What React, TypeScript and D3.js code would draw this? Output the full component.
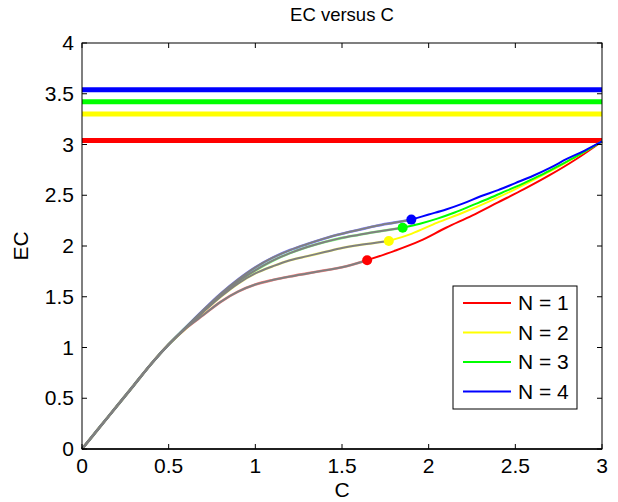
import * as d3 from 'd3';

// C values and EC values per N; gray up to the dot, coloured after it
const c1 = [0, 0.1, 0.2, 0.3, 0.4, 0.5, 0.6, 0.7, 0.8, 0.9, 1.0, 1.1, 1.2, 1.3, 1.4, 1.5, 1.645, 1.8, 1.95, 2.1, 2.25, 2.4, 2.55, 2.7, 2.85, 3.0];
const ec1 = [0, 0.21, 0.42, 0.63, 0.84, 1.03, 1.19, 1.32, 1.45, 1.55, 1.62, 1.665, 1.70, 1.73, 1.76, 1.79, 1.86, 1.95, 2.05, 2.18, 2.30, 2.43, 2.56, 2.70, 2.855, 3.03];

const c2 = [0, 0.1, 0.2, 0.3, 0.4, 0.5, 0.6, 0.7, 0.8, 0.9, 1.0, 1.1, 1.2, 1.3, 1.4, 1.5, 1.6, 1.77, 1.9, 2.05, 2.2, 2.35, 2.5, 2.65, 2.8, 2.9, 3.0];
const ec2 = [0, 0.21, 0.42, 0.63, 0.84, 1.03, 1.19, 1.35, 1.50, 1.63, 1.73, 1.80, 1.86, 1.90, 1.94, 1.98, 2.01, 2.05, 2.12, 2.23, 2.33, 2.44, 2.56, 2.69, 2.83, 2.93, 3.03];

const c3 = [0, 0.1, 0.2, 0.3, 0.4, 0.5, 0.6, 0.7, 0.8, 0.9, 1.0, 1.1, 1.2, 1.3, 1.4, 1.5, 1.6, 1.7, 1.85, 1.95, 2.05, 2.15, 2.25, 2.35, 2.45, 2.55, 2.65, 2.75, 2.85, 2.95, 3.0];
const ec3 = [0, 0.21, 0.42, 0.63, 0.84, 1.03, 1.20, 1.36, 1.51, 1.65, 1.76, 1.855, 1.93, 1.99, 2.04, 2.08, 2.11, 2.14, 2.18, 2.22, 2.27, 2.33, 2.40, 2.47, 2.545, 2.62, 2.70, 2.79, 2.88, 2.98, 3.03];

const c4 = [0, 0.1, 0.2, 0.3, 0.4, 0.5, 0.6, 0.7, 0.8, 0.9, 1.0, 1.1, 1.2, 1.3, 1.4, 1.5, 1.6, 1.7, 1.8, 1.9, 2.0, 2.1, 2.2, 2.3, 2.4, 2.5, 2.6, 2.7, 2.8, 2.9, 3.0];
const ec4 = [0, 0.21, 0.42, 0.63, 0.84, 1.03, 1.20, 1.37, 1.53, 1.67, 1.79, 1.885, 1.96, 2.02, 2.075, 2.12, 2.16, 2.20, 2.23, 2.26, 2.31, 2.36, 2.42, 2.49, 2.55, 2.62, 2.69, 2.77, 2.86, 2.94, 3.03];

const dotC = [1.645, 1.77, 1.85, 1.9];
const levels = [3.04, 3.30, 3.42, 3.54];
const names = ['N = 1', 'N = 2', 'N = 3', 'N = 4'];
const colors = ['#ff0000', '#ffff00', '#00ff00', '#0000ff'];

const xTicks = [0, 0.5, 1, 1.5, 2, 2.5, 3];
const yTicks = [0, 0.5, 1, 1.5, 2, 2.5, 3, 3.5, 4];

const W = 618, H = 502;
const m = { left: 82, right: 16, top: 43, bottom: 53 };
const font = 'Liberation Sans, Arial, sans-serif';

export default function App() {
  const x = d3.scaleLinear().domain([0, 3]).range([m.left, W - m.right]);
  const y = d3.scaleLinear().domain([0, 4]).range([H - m.bottom, m.top]);
  const line = d3.line<[number, number]>().x(d => x(d[0])).y(d => y(d[1])).curve(d3.curveCatmullRom.alpha(0.5));

  const series = [[c1, ec1], [c2, ec2], [c3, ec3], [c4, ec4]].map(([cs, es], i) => {
    const pts = cs.map((c, j) => [c, es[j]] as [number, number]);
    const k = cs.findIndex(c => c >= dotC[i]);
    return { pts, gray: pts.slice(0, k + 1), col: pts.slice(k), dot: pts[k] };
  });

  const x0 = x(0), x1 = x(3), y0 = y(0), y1 = y(4);
  const tl = 5;

  // legend
  const lg = { x: 453, y: 286, w: 124, h: 123 };
  const rowY = (i: number) => lg.y + 17 + i * 29.5;

  return (
    <svg width={W} height={H} style={{ position: 'absolute', left: 0, top: 0, background: '#fff' }} fontFamily={font}>
      <rect x={0} y={0} width={W} height={H} fill="#fff" />
      {/* horizontal levels */}
      {levels.map((v, i) => (
        <line key={'h' + i} x1={x0} x2={x1} y1={y(v)} y2={y(v)} stroke={colors[i]} strokeWidth={5} />
      ))}
      {/* curves: coloured fringe, gray part, coloured part */}
      {series.map((s, i) => (
        <path key={'f' + i} d={line(s.gray) || ''} fill="none" stroke={colors[i]} strokeWidth={2.6} opacity={0.5} />
      ))}
      {series.map((s, i) => (
        <path key={'g' + i} d={line(s.gray) || ''} fill="none" stroke="#808080" strokeWidth={2} />
      ))}
      {series.map((s, i) => (
        <path key={'c' + i} d={line(s.col) || ''} fill="none" stroke={colors[i]} strokeWidth={2} />
      ))}
      {series.map((s, i) => (
        <circle key={'d' + i} cx={x(s.dot[0])} cy={y(s.dot[1])} r={5} fill={colors[i]} />
      ))}
      {/* box */}
      <rect x={x0} y={y1} width={x1 - x0} height={y0 - y1} fill="none" stroke="#000" strokeWidth={1} />
      <line x1={x0} x2={x1} y1={y0} y2={y0} stroke="#000" strokeWidth={1.6} />
      {xTicks.map(t => (
        <g key={'xt' + t}>
          <line x1={x(t)} x2={x(t)} y1={y0} y2={y0 - tl} stroke="#000" />
          <line x1={x(t)} x2={x(t)} y1={y1} y2={y1 + tl} stroke="#000" />
          <text x={x(t)} y={y0 + 24} fontSize={21} textAnchor="middle">{t}</text>
        </g>
      ))}
      {yTicks.map(t => (
        <g key={'yt' + t}>
          <line x1={x0} x2={x0 + tl} y1={y(t)} y2={y(t)} stroke="#000" />
          <line x1={x1} x2={x1 - tl} y1={y(t)} y2={y(t)} stroke="#000" />
          <text x={x0 - 8} y={y(t) + 7} fontSize={21} textAnchor="end">{t}</text>
        </g>
      ))}
      <text x={(x0 + x1) / 2} y={21} fontSize={18.5} textAnchor="middle">EC versus C</text>
      <text x={(x0 + x1) / 2} y={497} fontSize={21} textAnchor="middle">C</text>
      <text transform={`translate(28,${(y0 + y1) / 2}) rotate(-90)`} fontSize={21} textAnchor="middle">EC</text>
      {/* legend */}
      <rect x={lg.x} y={lg.y} width={lg.w} height={lg.h} fill="#fff" stroke="#000" strokeWidth={1} />
      {names.map((n, i) => (
        <g key={'l' + i}>
          <line x1={lg.x + 10} x2={lg.x + 58} y1={rowY(i)} y2={rowY(i)} stroke={colors[i]} strokeWidth={2} />
          <text x={lg.x + 65} y={rowY(i) + 7} fontSize={21}>{n}</text>
        </g>
      ))}
    </svg>
  );
}
